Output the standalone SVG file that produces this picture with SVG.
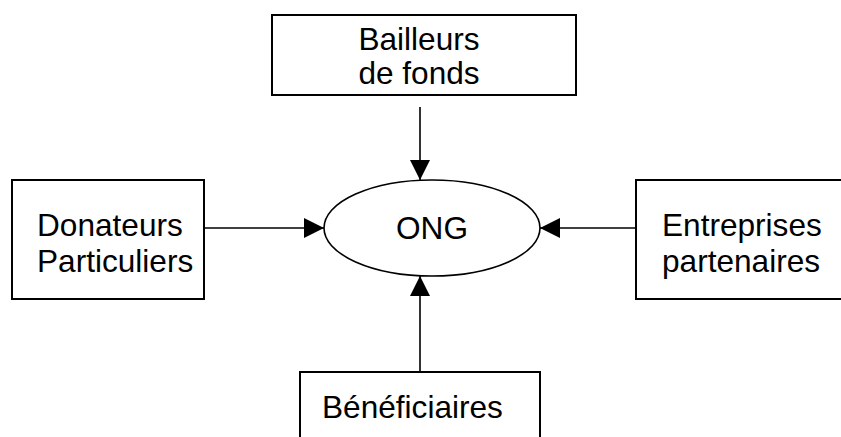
<svg xmlns="http://www.w3.org/2000/svg" width="841" height="437" viewBox="0 0 841 437">
<style>
.box{fill:#fff;stroke:#000;stroke-width:2}
.ell{fill:#fff;stroke:#000;stroke-width:1.6}
.t{font-family:"Liberation Sans",Arial,sans-serif;font-size:31.6px;fill:#000}
.c{stroke:#000;stroke-width:1.6;fill:none;marker-end:url(#ah)}
</style>
<defs>
<marker id="ah" markerUnits="userSpaceOnUse" markerWidth="22" markerHeight="20" refX="20" refY="10" orient="auto">
<path d="M0,0 L20,10 L0,20 Z" fill="#000"/>
</marker>
</defs>
<rect width="841" height="437" fill="#fff"/>
<g id="connectors">
<line class="c" x1="420" y1="107" x2="420" y2="180"/>
<line class="c" x1="204" y1="228" x2="324" y2="228"/>
<line class="c" x1="636" y1="228" x2="540" y2="228"/>
<line class="c" x1="420" y1="372" x2="420" y2="276"/>
</g>
<g id="bailleurs">
<rect class="box" x="272" y="15" width="304" height="80"/>
<text class="t" x="419" y="50" text-anchor="middle">Bailleurs</text>
<text class="t" x="419" y="84" text-anchor="middle">de fonds</text>
</g>
<g id="donateurs">
<rect class="box" x="12" y="180" width="192" height="119"/>
<text class="t" x="37" y="236">Donateurs</text>
<text class="t" x="37" y="272">Particuliers</text>
</g>
<g id="ong">
<ellipse class="ell" cx="432" cy="228" rx="108" ry="48"/>
<text class="t" x="432" y="239" text-anchor="middle">ONG</text>
</g>
<g id="entreprises">
<rect class="box" x="636" y="180" width="220" height="119"/>
<text class="t" x="662" y="236">Entreprises</text>
<text class="t" x="662" y="272">partenaires</text>
</g>
<g id="beneficiaires">
<rect class="box" x="300" y="372" width="240" height="80"/>
<text class="t" x="322" y="418">Bénéficiaires</text>
</g>
</svg>
